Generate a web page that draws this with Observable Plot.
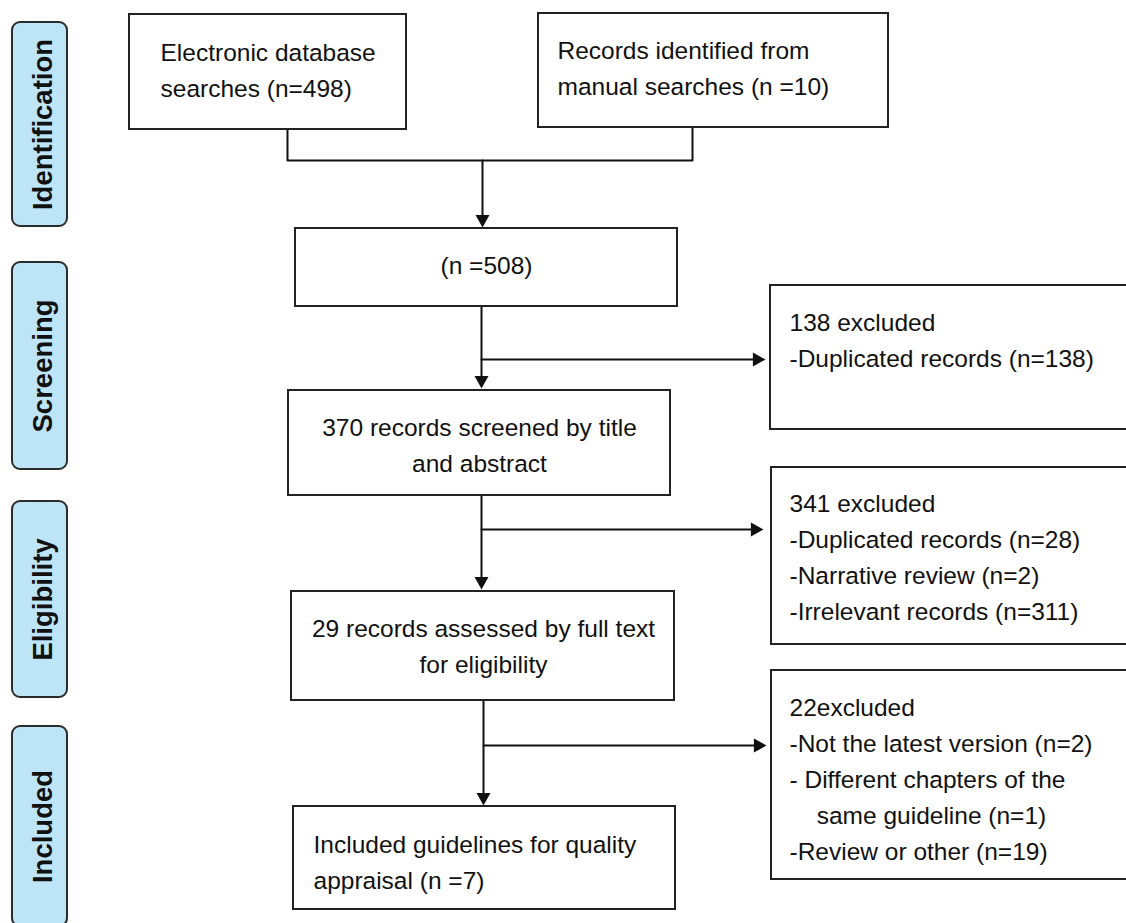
<!DOCTYPE html>
<html><head><meta charset="utf-8">
<script src="https://cdn.jsdelivr.net/npm/d3@7"></script>
<script src="https://cdn.jsdelivr.net/npm/@observablehq/plot@0.6"></script>
<style>html,body{margin:0;padding:0;overflow:hidden;background:#fff}</style>
</head><body><div id="chart"></div>
<script>
// ---- content ----
const stageNames = ["Identification", "Screening", "Eligibility", "Included"];
const boxLines = [
  ["Electronic database", "searches (n=498)"],
  ["Records identified from", "manual searches (n =10)"],
  ["(n =508)"],
  ["370 records screened by title", "and abstract"],
  ["138 excluded", "-Duplicated records (n=138)"],
  ["29 records assessed by full text", "for eligibility"],
  ["341 excluded", "-Duplicated records (n=28)", "-Narrative review (n=2)", "-Irrelevant records (n=311)"],
  ["Included guidelines for quality", "appraisal (n =7)"],
  ["22excluded", "-Not the latest version (n=2)", "- Different chapters of the", "\u00a0\u00a0\u00a0\u00a0same guideline (n=1)", "-Review or other (n=19)"]
];
const boxAlign = ["start", "start", "middle", "middle", "start", "middle", "start", "start", "start"];

// ---- layout (page pixels) ----
const W = 1126, H = 923;
const stageTop = [22, 262, 501, 726];
const stageBottom = [226, 469, 697, 926];
const boxX1 = [129, 538, 295, 288, 770, 291, 771, 293, 771];
const boxX2 = [406, 888, 677, 670, 1132, 674, 1132, 675, 1132];
const boxY1 = [14, 13, 228, 390, 285, 591, 467, 806, 670];
const boxY2 = [129, 127, 306, 495, 429, 700, 644, 909, 879];
const textX = [160, 557, 486, 479, 789, 483, 789, 313, 789];
const textLastBaseline = [96, 94, 273, 471, 366, 672, 619, 888, 859];
const flowPaths = [
  [[287, 129], [287, 160], [692, 160], [692, 127]],
  [[482, 160], [482, 220]],
  [[481, 306], [481, 380]],
  [[481, 359], [757, 359]],
  [[481, 495], [481, 580]],
  [[481, 529], [755, 529]],
  [[483, 700], [483, 797]],
  [[483, 745], [758, 745]]
];
const downTips = [[482, 227], [481, 388], [481, 589], [483, 805]];
const rightTips = [[765, 359], [763, 529], [766, 745]];

// ---- tables ----
const stages = stageNames.map((name, i) => ({name, y1: stageTop[i], y2: stageBottom[i], ym: (stageTop[i] + stageBottom[i]) / 2}));
const boxes = boxLines.map((lines, i) => ({
  text: lines.join("\n"), align: boxAlign[i],
  x1: boxX1[i], x2: boxX2[i], y1: boxY1[i], y2: boxY2[i],
  tx: textX[i], ty: textLastBaseline[i]
}));
const pathPts = flowPaths.flatMap((p, id) => p.map(([x, y]) => ({id, x, y})));
const downPts = downTips.map(([x, y]) => ({x, y}));
const rightPts = rightTips.map(([x, y]) => ({x, y}));

const arrowDown = {draw(ctx, size) {const r = Math.sqrt(size / Math.PI), h = r * 1.8; ctx.moveTo(0, 0); ctx.lineTo(-r, -h); ctx.lineTo(r, -h); ctx.closePath();}};
const arrowRight = {draw(ctx, size) {const r = Math.sqrt(size / Math.PI), h = r * 1.8; ctx.moveTo(0, 0); ctx.lineTo(-h, -r); ctx.lineTo(-h, r); ctx.closePath();}};

const font = "'Liberation Sans', Arial, Helvetica, sans-serif";
const fs = 24.5;
const textOpts = {x: "tx", y: "ty", text: "text", fontSize: fs, lineHeight: 36 / fs, lineAnchor: "bottom", fill: "#111"};

const chart = Plot.plot({
  width: W, height: H,
  margin: 0,
  x: {domain: [0, W], range: [0, W], axis: null},
  y: {domain: [0, H], range: [0, H], axis: null},
  style: {fontFamily: font, background: "#fff", overflow: "hidden"},
  marks: [
    Plot.rect(stages, {x1: 12, x2: 67, y1: "y1", y2: "y2", rx: 8, fill: "#BEE4F7", stroke: "#2b2b2b", strokeWidth: 2}),
    Plot.text(stages, {x: 43, y: "ym", text: "name", rotate: -90, fontSize: 27.5, fontWeight: "bold", fill: "#111", textAnchor: "middle"}),
    Plot.line(pathPts, {x: "x", y: "y", z: "id", stroke: "#111", strokeWidth: 2, curve: "linear"}),
    Plot.rect(boxes, {x1: "x1", x2: "x2", y1: "y1", y2: "y2", fill: "#fff", stroke: "#222", strokeWidth: 2}),
    Plot.dot(downPts, {x: "x", y: "y", r: 7, symbol: arrowDown, fill: "#111", stroke: "none"}),
    Plot.dot(rightPts, {x: "x", y: "y", r: 7, symbol: arrowRight, fill: "#111", stroke: "none"}),
    Plot.text(boxes.filter(d => d.align === "middle"), {...textOpts, textAnchor: "middle"}),
    Plot.text(boxes.filter(d => d.align === "start"), {...textOpts, textAnchor: "start"})
  ]
});
document.getElementById("chart").appendChild(chart);
</script>
</body></html>
